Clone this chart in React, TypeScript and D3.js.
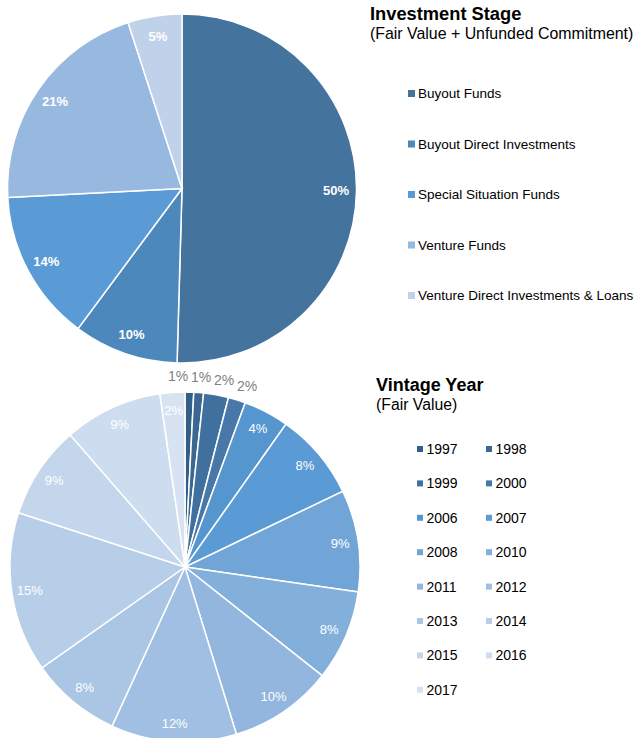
import React from "react";
import * as d3 from "d3";

const stageNames = [
  "Buyout Funds",
  "Buyout Direct Investments",
  "Special Situation Funds",
  "Venture Funds",
  "Venture Direct Investments & Loans",
];
const stageValues = [50.4, 9.7, 14.0, 20.8, 5.0];
const stageColors = ["#44739e", "#4d88bd", "#5b9bd5", "#97b9df", "#bfd2ea"];

const vintageYears = [
  "1997", "1998", "1999", "2000", "2006", "2007", "2008", "2010",
  "2011", "2012", "2013", "2014", "2015", "2016", "2017",
];
const vintageValues = [0.8, 0.9, 2.3, 1.6, 4.2, 8.1, 9.4, 8.4, 9.6, 11.6, 8.4, 14.8, 8.6, 9.1, 2.3];
const vintageColors = [
  "#335e86", "#3a6892", "#40709d", "#4878a8", "#5596cf", "#5b9bd5",
  "#71a5d8", "#83afdb", "#92b6de", "#a0bfe2", "#abc6e5", "#b7cee8",
  "#c3d6eb", "#cddcee", "#d7e3f2",
];
const outsideLabelYears = ["1997", "1998", "1999", "2000"];

const FONT = "'Liberation Sans', Arial, sans-serif";

function pct(values: number[]) {
  const s = d3.sum(values);
  return values.map((v) => Math.round((v / s) * 100) + "%");
}

export default function App() {
  const W = 637;
  const H = 738;

  const pie = d3.pie<number>().sort(null).value((d) => d);

  // Top pie
  const c1 = { x: 182, y: 188.5 };
  const R1 = 174.5;
  const arcs1 = pie(stageValues);
  const arc1 = d3.arc<d3.PieArcDatum<number>>().innerRadius(0).outerRadius(R1);
  const labels1 = pct(stageValues);

  // Bottom pie
  const c2 = { x: 185, y: 567 };
  const R2 = 175;
  const arcs2 = pie(vintageValues);
  const arc2 = d3.arc<d3.PieArcDatum<number>>().innerRadius(0).outerRadius(R2);
  const labels2 = pct(vintageValues);

  const mid = (a: d3.PieArcDatum<number>) => (a.startAngle + a.endAngle) / 2;

  // outside labels with simple horizontal de-overlap
  const outR = 191;
  const outside = arcs2
    .map((a, i) => ({ i, a }))
    .filter((o) => outsideLabelYears.includes(vintageYears[o.i]))
    .map((o) => {
      const m = mid(o.a);
      return { i: o.i, x: c2.x + Math.sin(m) * outR, y: 0 };
    })
    .sort((p, q) => p.x - q.x);
  const minGap = 23;
  for (let iter = 0; iter < 80; iter++) {
    for (let k = 1; k < outside.length; k++) {
      const d = outside[k].x - outside[k - 1].x;
      if (d < minGap) {
        const push = (minGap - d) / 2;
        outside[k].x += push;
        outside[k - 1].x -= push;
      }
    }
  }
  outside.forEach((o) => {
    const dx = o.x - c2.x;
    o.y = c2.y - Math.sqrt(Math.max(0, outR * outR - dx * dx));
  });

  const lab1R = 154;
  const lab2R = 157;

  return (
    <svg
      width={W}
      height={H}
      style={{ position: "absolute", left: 0, top: 0, background: "#fff" }}
      fontFamily={FONT}
    >
      {/* Top pie */}
      <g transform={`translate(${c1.x},${c1.y})`}>
        {arcs1.map((a, i) => (
          <path key={i} d={arc1(a) || ""} fill={stageColors[i]} stroke="#fff" strokeWidth={1.5} />
        ))}
        {arcs1.map((a, i) => {
          const m = mid(a);
          return (
            <text
              key={"l" + i}
              x={Math.sin(m) * lab1R}
              y={-Math.cos(m) * lab1R}
              dy="0.35em"
              textAnchor="middle"
              fontSize={13}
              fontWeight="bold"
              fill="#fff"
            >
              {labels1[i]}
            </text>
          );
        })}
      </g>

      {/* Top title */}
      <text x={370} y={20} fontSize={18.3} fontWeight="bold" fill="#000">
        Investment Stage
      </text>
      <text x={370} y={39} fontSize={15.9} fill="#000">
        (Fair Value + Unfunded Commitment)
      </text>

      {/* Top legend */}
      {stageNames.map((n, i) => {
        const y = 93.5 + i * 50.5;
        return (
          <g key={n}>
            <rect x={408} y={y - 3.5} width={7} height={7} fill={stageColors[i]} />
            <text x={418} y={y} dy="0.35em" fontSize={13.5} fill="#000">
              {n}
            </text>
          </g>
        );
      })}

      {/* Bottom pie */}
      <g transform={`translate(${c2.x},${c2.y})`}>
        {arcs2.map((a, i) => (
          <path key={i} d={arc2(a) || ""} fill={vintageColors[i]} stroke="#fff" strokeWidth={1.5} />
        ))}
        {arcs2.map((a, i) => {
          if (outsideLabelYears.includes(vintageYears[i])) return null;
          const m = mid(a);
          return (
            <text
              key={"l" + i}
              x={Math.sin(m) * lab2R}
              y={-Math.cos(m) * lab2R}
              dy="0.35em"
              textAnchor="middle"
              fontSize={13}
              fill="#fff"
            >
              {labels2[i]}
            </text>
          );
        })}
      </g>
      {outside.map((o) => (
        <text
          key={"o" + o.i}
          x={o.x}
          y={o.y}
          dy="0.35em"
          textAnchor="middle"
          fontSize={14}
          fill="#7f7f7f"
        >
          {labels2[o.i]}
        </text>
      ))}

      {/* Bottom title */}
      <text x={376} y={391} fontSize={18} fontWeight="bold" fill="#000">
        Vintage Year
      </text>
      <text x={376} y={410} fontSize={15.8} fill="#000">
        (Fair Value)
      </text>

      {/* Bottom legend */}
      {vintageYears.map((yr, i) => {
        const col = i % 2;
        const row = Math.floor(i / 2);
        const x = col === 0 ? 417 : 486;
        const y = 449 + row * 34.4;
        return (
          <g key={yr}>
            <rect x={x} y={y - 3} width={6} height={6} fill={vintageColors[i]} />
            <text x={x + 9.5} y={y} dy="0.35em" fontSize={14} fill="#000">
              {yr}
            </text>
          </g>
        );
      })}
    </svg>
  );
}
